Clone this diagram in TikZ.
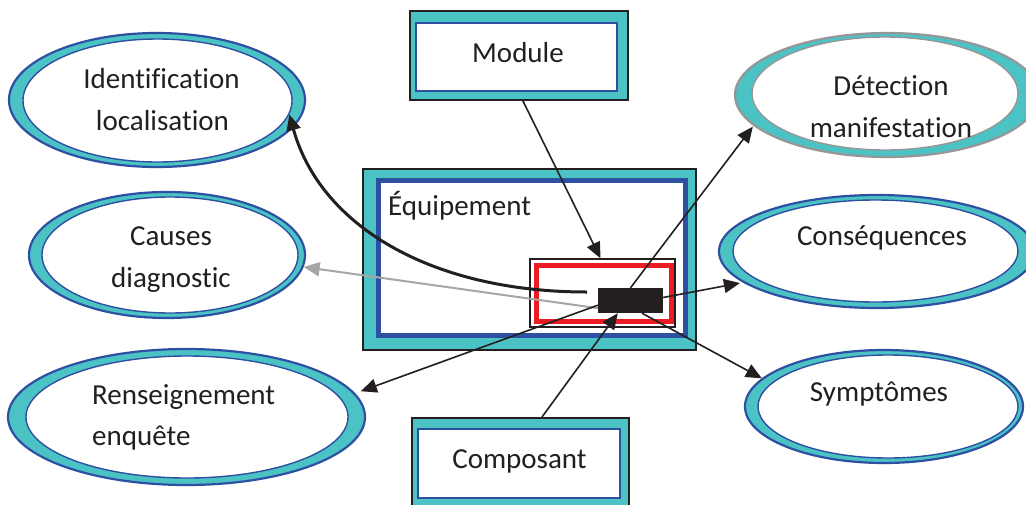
\documentclass[tikz,border=0pt]{standalone}
\usepackage{fontspec}
\setmainfont{Carlito}[Ligatures={NoCommon,NoContextual}]
\usetikzlibrary{shapes.geometric,arrows.meta}

\definecolor{ringteal}{RGB}{75,195,197}
\definecolor{ringblue}{RGB}{46,80,162}
\definecolor{alarmred}{RGB}{237,28,36}
\definecolor{inkgray}{RGB}{35,31,32}
\definecolor{pathgray}{RGB}{166,166,166}
\definecolor{rimgray}{RGB}{150,150,150}

\tikzset{
  ringout/.style={ellipse, draw=ringblue, line width=2.2pt, fill=ringteal, inner sep=0pt},
  ringin/.style={ellipse, draw=ringblue, line width=1.4pt, fill=white, inner sep=0pt},
  framebox/.style={rectangle, draw=inkgray, line width=2pt, fill=ringteal, inner sep=0pt},
  innerbox/.style={rectangle, draw=ringblue, line width=2pt, fill=white, inner sep=0pt},
  lbl/.style={font=\fontsize{29}{35}\selectfont, text=inkgray, anchor=base, inner sep=0pt},
  tipA/.style={-{Triangle[length=16pt,width=14pt]}},
  link/.style={draw=inkgray, line width=1.6pt, tipA},
}

\begin{document}
\begin{tikzpicture}[x=1pt, y=-1pt]
\useasboundingbox (0,0) rectangle (1026,504);
\clip (0,0) rectangle (1026,504);
\fill[white] (0,0) rectangle (1026,504);

% ---- ellipses on the left
\node[ringout, minimum width=296pt, minimum height=134pt] (identO) at (157,100) {};
\node[ringin, minimum width=269pt, minimum height=123pt] (ident) at (157.5,100.5) {};
\node[lbl] (identA) at (161.5,88) {Identification};
\node[lbl] (identB) at (162.5,130) {localisation};

\node[ringout, minimum width=276pt, minimum height=126pt] (causesO) at (167,255) {};
\node[ringin, minimum width=256pt, minimum height=116pt] (causes) at (170,255) {};
\node[lbl] (causesA) at (171,245) {Causes};
\node[lbl] (causesB) at (171,287) {diagnostic};

\node[ringout, minimum width=357pt, minimum height=136pt] (rensO) at (186.5,417) {};
\node[ringin, minimum width=322pt, minimum height=122pt] (rens) at (187,417) {};
\node[lbl, anchor=base west] (rensA) at (92,404) {Renseignement};
\node[lbl, anchor=base west] (rensB) at (92,445) {enquête};

% ---- ellipses on the right
\node[ringout, draw=rimgray, minimum width=304pt, minimum height=124pt] (detO) at (887,95) {};
\node[ringin, draw=rimgray, minimum width=266pt, minimum height=113pt] (det) at (885,93.5) {};
\node[lbl] (detA) at (891,95) {Détection};
\node[lbl] (detB) at (891,137) {manifestation};

\node[ringout, minimum width=316pt, minimum height=113pt] (consO) at (877,251.5) {};
\node[ringin, minimum width=285pt, minimum height=102pt] (cons) at (875.5,251) {};
\node[lbl] (consA) at (882,245) {Conséquences};

\node[ringout, minimum width=278pt, minimum height=113pt] (symO) at (884,406.5) {};
\node[ringin, minimum width=260pt, minimum height=103pt] (sym) at (888,406.5) {};
\node[lbl] (symA) at (879,401) {Symptômes};

% ---- module and component boxes
\node[framebox, minimum width=218.5pt, minimum height=89pt] (modbox) at (518.75,55) {};
\node[innerbox, minimum width=201pt, minimum height=68pt] (mod) at (516.5,57) {};
\node[lbl] (modA) at (518,62) {Module};

\node[framebox, minimum width=217pt, minimum height=92pt] (compbox) at (520.5,464) {};
\node[innerbox, minimum width=202pt, minimum height=69pt] (comp) at (519,463.5) {};
\node[lbl] (compA) at (519.5,468) {Composant};

% ---- equipment with its faulty sub-assembly
\node[framebox, minimum width=333pt, minimum height=181pt] (equip) at (529.5,259.5) {};
\node[rectangle, draw=ringblue, line width=5pt, fill=white, inner sep=0pt,
      minimum width=307.5pt, minimum height=154.2pt] (equipIn) at (532,258) {};
\node[lbl, anchor=base west] (equipA) at (388,215) {Équipement};

\node[rectangle, draw=inkgray, line width=1.3pt, fill=white, inner sep=0pt,
      minimum width=145pt, minimum height=68pt] (sub) at (602.5,293) {};
\node[rectangle, draw=alarmred, line width=5pt, inner sep=0pt,
      minimum width=135pt, minimum height=56pt] (subred) at (603.5,293) {};
\node[rectangle, fill=inkgray, inner sep=0pt,
      minimum width=65pt, minimum height=25pt] (core) at (630.5,300.5) {};

% ---- connectors
\coordinate (curveStart) at (587,292);
\draw[inkgray, line width=3pt, tipA]
  (curveStart) .. controls (430,292) and (320,225) .. (ident.-6);
\draw[pathgray, line width=2pt, tipA] ([yshift=5pt]core.south west) -- (causesO.-5);
\draw[link, shorten >=6pt] ([yshift=8pt]core.south west) -- (rensO.8);
\draw[link] ([xshift=4pt]modbox.south) -- ([xshift=-2pt]sub.north);
\draw[link, shorten >=1pt] (core.north) -- (detO.193);
\draw[link, shorten >=3pt] ([yshift=3pt]core.east) -- (consO.193);
\draw[link] ([xshift=11.5pt]core.south) -- (symO.167);
\draw[link] ([xshift=21.5pt]compbox.north) -- ([xshift=20pt]core.south west);
\end{tikzpicture}
\end{document}
